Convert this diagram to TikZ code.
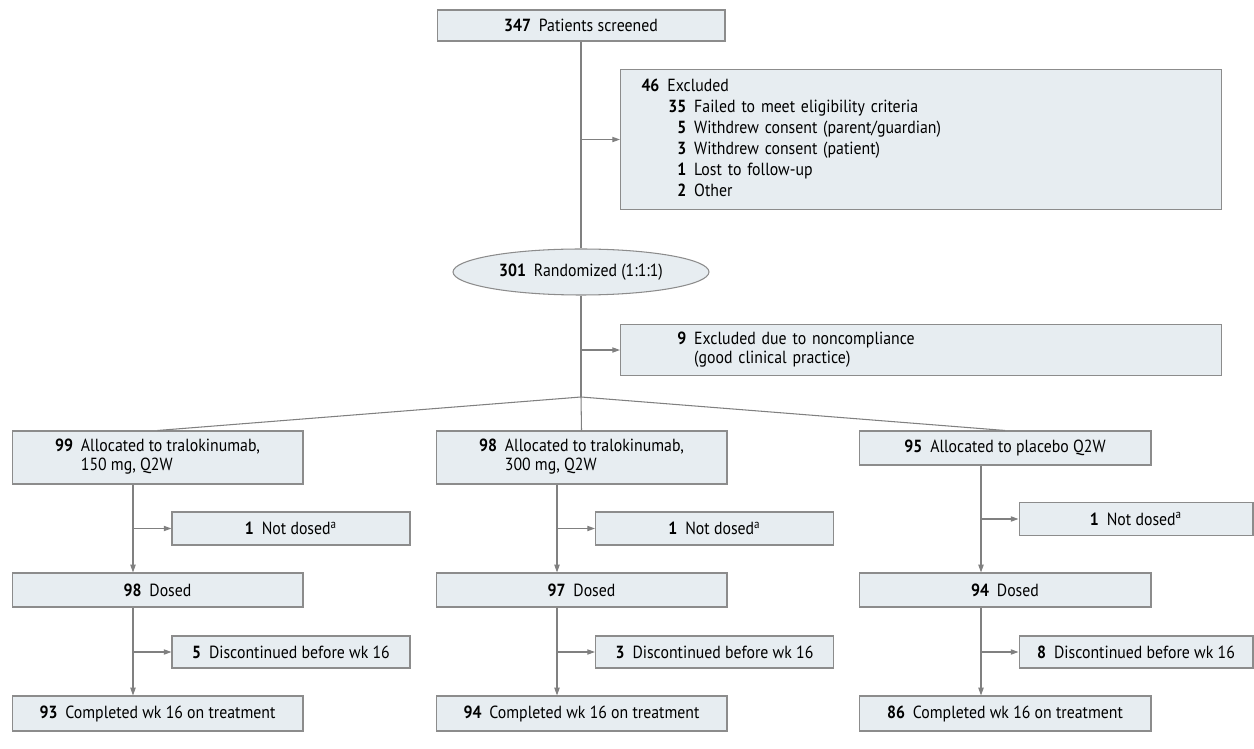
\documentclass[tikz,border=0pt]{standalone}
\usepackage{fontspec}
\setmainfont{PT Sans}[FakeStretch=0.9]
\usetikzlibrary{arrows.meta,shapes.geometric}

\definecolor{boxfill}{HTML}{E7EDF1}
\definecolor{boxline}{HTML}{8C8C8C}
\definecolor{linkline}{HTML}{808080}

\newcommand{\num}[1]{\textbf{#1}\hspace{4.5pt}}
\newcommand{\twoline}[3]{{\renewcommand{\arraystretch}{0.9}%
  \begin{tabular}{@{}r@{\hspace{4.5pt}}l@{}}\textbf{#1} & #2\\ & #3\end{tabular}}}

\tikzset{
  box/.style={draw=boxline, fill=boxfill, line width=0.6pt, inner sep=0pt, align=center},
  bigbox/.style={box, minimum width=5.82cm},
  sidebox/.style={box, minimum width=4.76cm, minimum height=0.66cm},
  exclbox/.style={box, anchor=north west, text width=11.18cm, inner xsep=0.42cm, align=left},
  link/.style={draw=linkline, line width=0.6pt},
  arr/.style={link, -{Triangle[length=4.4pt,width=3pt]}}
}

\begin{document}
\begin{tikzpicture}[x=0.02cm,y=-0.02cm,font=\fontsize{10}{12}\selectfont]
\useasboundingbox (0,0) rectangle (1254,749);

% screening and randomization
\node[box, minimum width=5.76cm, minimum height=0.62cm] (screen) at (581,25.5) {\num{347}Patients screened};
\node[exclbox, minimum height=2.8cm] (excl) at (620,69) {%
  \begin{tabular}{@{}r@{\hspace{4.5pt}}l@{}}
  \multicolumn{2}{@{}l}{\num{46}Excluded}\\
  \makebox[25.5pt][r]{\textbf{35}} & Failed to meet eligibility criteria\\
  \textbf{5} & Withdrew consent (parent/guardian)\\
  \textbf{3} & Withdrew consent (patient)\\
  \textbf{1} & Lost to follow-up\\
  \textbf{2} & Other
  \end{tabular}};
\node[ellipse, draw=boxline, fill=boxfill, line width=0.6pt, inner sep=0pt, minimum width=5.12cm, minimum height=0.92cm] (rand) at (581,272) {\num{301}Randomized (1:1:1)};
\node[exclbox, minimum height=1.02cm] (gcp) at (620,324) {%
  {\renewcommand{\arraystretch}{0.9}%
  \begin{tabular}{@{}r@{\hspace{4.5pt}}l@{}}
  \makebox[25.5pt][r]{\textbf{9}} & Excluded due to noncompliance\\
  & (good clinical practice)
  \end{tabular}}};
\coordinate (split) at (581,397);

% allocation
\node[bigbox, minimum height=1.06cm] (alloc1) at (157.5,457.5) {\twoline{99}{Allocated to tralokinumab,}{150 mg, Q2W}};
\node[bigbox, minimum height=1.06cm] (alloc2) at (581.5,457.5) {\twoline{98}{Allocated to tralokinumab,}{300 mg, Q2W}};
\node[bigbox, minimum width=5.84cm, minimum height=0.68cm] (alloc3) at (1005,448) {\num{95}Allocated to placebo Q2W};

% not dosed
\node[sidebox] (nd1) at (291,528.5) {\num{1}Not dosed\textsuperscript{a}};
\node[sidebox] (nd2) at (714.5,528.5) {\num{1}Not dosed\textsuperscript{a}};
\node[sidebox, minimum width=4.68cm] (nd3) at (1136,519) {\num{1}Not dosed\textsuperscript{a}};

% dosed
\node[bigbox, minimum height=0.68cm] (dosed1) at (157.5,590) {\num{98}Dosed};
\node[bigbox, minimum height=0.68cm] (dosed2) at (581.5,590) {\num{97}Dosed};
\node[bigbox, minimum width=5.84cm, minimum height=0.68cm] (dosed3) at (1005,590) {\num{94}Dosed};

% discontinued
\node[sidebox, minimum height=0.64cm] (disc1) at (291,652) {\num{5}Discontinued before wk 16};
\node[sidebox, minimum height=0.64cm] (disc2) at (714.5,652) {\num{3}Discontinued before wk 16};
\node[sidebox, minimum width=4.68cm, minimum height=0.64cm] (disc3) at (1136,652) {\num{8}Discontinued before wk 16};

% completed
\node[bigbox, minimum height=0.7cm] (done1) at (157.5,713.5) {\num{93}Completed wk 16 on treatment};
\node[bigbox, minimum height=0.7cm] (done2) at (581.5,713.5) {\num{94}Completed wk 16 on treatment};
\node[bigbox, minimum width=5.84cm, minimum height=0.7cm] (done3) at (1005,713.5) {\num{86}Completed wk 16 on treatment};

% connectors
\draw[link] (screen.south) -- (rand.north);
\draw[arr] (screen.south |- excl.west) -- (excl.west);
\draw[link] (rand.south) -- (split);
\draw[arr] (split |- gcp.west) -- (gcp.west);
\draw[link] (split) -- (alloc1.north);
\draw[link] (split) -- (alloc2.north);
\draw[link] (split) -- (alloc3.north);

\coordinate (col1) at (133,0);
\coordinate (col2) at (557,0);
\coordinate (col3) at (981,0);
\foreach \c in {1,2,3}{
  \draw[arr] (alloc\c.south -| col\c) -- (dosed\c.north -| col\c);
  \draw[arr] (nd\c.west -| col\c) -- (nd\c.west);
  \draw[arr] (dosed\c.south -| col\c) -- (done\c.north -| col\c);
  \draw[arr] (disc\c.west -| col\c) -- (disc\c.west);
}
\end{tikzpicture}
\end{document}
